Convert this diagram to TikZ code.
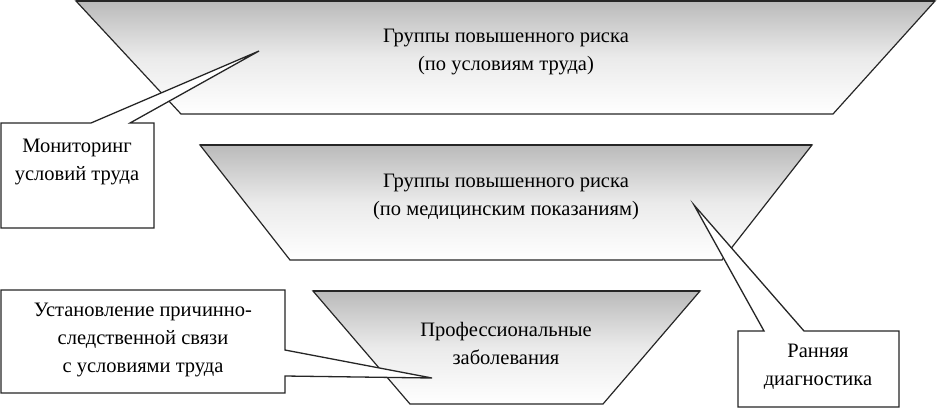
\documentclass[tikz,border=0pt]{standalone}
\usepackage{fontspec}
\setmainfont{Liberation Serif}
\begin{document}
\begin{tikzpicture}[x=1pt,y=-1pt,
  trap/.style={draw=black!85, line width=1.2pt, top color=black!27, bottom color=white, middle color=black!8},
  topedge/.style={draw=black!85, line width=2.6pt},
  callout/.style={draw=black!85, line width=1.3pt, fill=white, line join=miter},
  lbl/.style={align=center, inner sep=0pt, font=\fontsize{20.5}{28}\selectfont}]
\useasboundingbox (0,0) rectangle (939,408);
% trapezoids
\coordinate (a1) at (76,1); \coordinate (a2) at (935,1);
\coordinate (a3) at (833,114); \coordinate (a4) at (181,114);
\coordinate (b1) at (200,145); \coordinate (b2) at (812,145);
\coordinate (b3) at (722,260); \coordinate (b4) at (290,260);
\coordinate (c1) at (313,291); \coordinate (c2) at (700,291);
\coordinate (c3) at (603,404); \coordinate (c4) at (410,404);
\path[trap] (a1) -- (a2) -- (a3) -- (a4) -- cycle;
\draw[topedge] (a1) -- (a2);
\path[trap] (b1) -- (b2) -- (b3) -- (b4) -- cycle;
\draw[topedge] (b1) -- (b2);
\path[trap] (c1) -- (c2) -- (c3) -- (c4) -- cycle;
\draw[topedge] (c1) -- (c2);
\node[lbl] (t1) at (506,52) {Группы повышенного риска\\(по условиям труда)};
\node[lbl] (t2) at (506,197) {Группы повышенного риска\\(по медицинским показаниям)};
\node[lbl] (t3) at (506,343) {Профессиональные\\заболевания};
% callouts
\coordinate (p1) at (259,51);
\coordinate (p2) at (694,205);
\coordinate (p3) at (432,378);
\path[callout] (1,123) -- (91,123) -- (p1) -- (130,123) -- (154,123) -- (154,228) -- (1,228) -- cycle;
\path[callout] (738,331) -- (764,331) -- (p2) -- (804,331) -- (899,331) -- (899,407) -- (738,407) -- cycle;
\path[callout] (1,290) -- (285,290) -- (285,350) -- (p3) -- (285,376) -- (285,393) -- (1,393) -- cycle;
\node[lbl] (m1) at (77,162) {Мониторинг\\условий труда};
\node[lbl] (m2) at (818,367) {Ранняя\\диагностика};
\node[lbl] (m3) at (143,340) {Установление причинно-\\следственной связи\\с условиями труда};
\end{tikzpicture}
\end{document}
